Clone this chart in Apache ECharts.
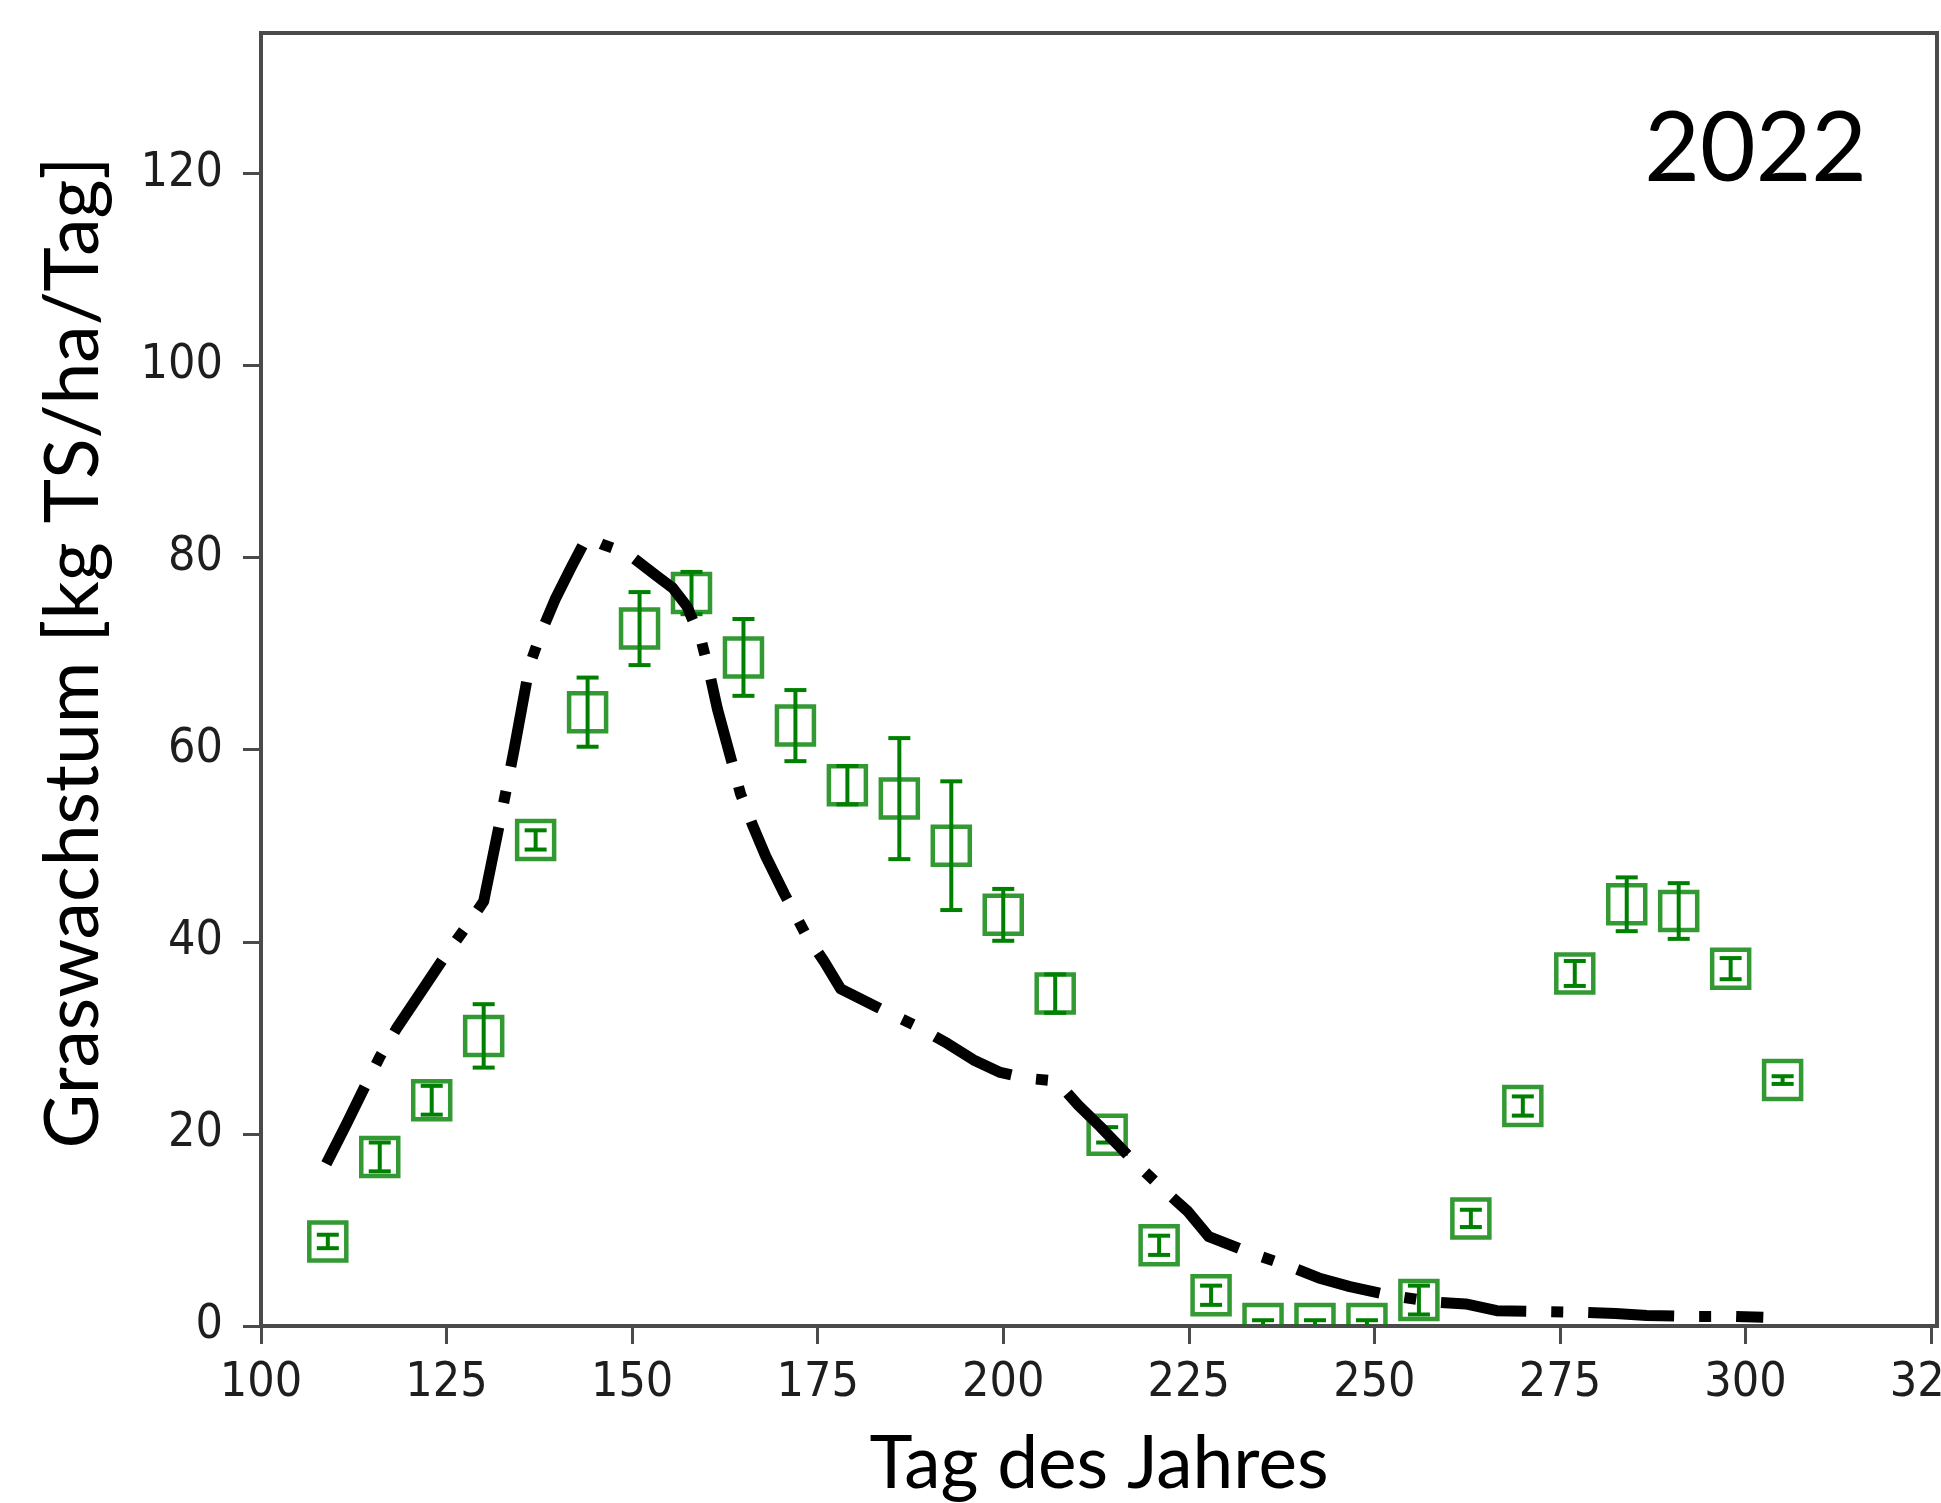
<!DOCTYPE html>
<html>
<head>
<meta charset="utf-8">
<script src="https://cdn.jsdelivr.net/npm/echarts@6/dist/echarts.min.js"></script>
<style>
html,body{margin:0;padding:0;background:#fff;}
#chart{width:1941px;height:1503px;}
</style>
</head>
<body>
<div id="chart"></div>
<script>
// Measured growth (green squares) — day of year, value, error
const obsDays = [109,116,123,130,137,144,151,158,165,172,179,186,193,200,207,214,221,228,235,242,249,256,263,270,277,284,291,298,305];
const obsValues = [8.8,17.6,23.5,30.2,50.6,63.9,72.6,76.3,69.6,62.5,56.3,54.9,50.0,42.8,34.6,19.9,8.4,3.2,0.2,0.2,0.2,2.7,11.2,22.9,36.7,43.9,43.2,37.2,25.6];
const obsErrors = [0.7,1.5,1.5,3.3,1.0,3.6,3.8,2.2,4.0,3.7,2.0,6.3,6.7,2.7,2.0,0.8,1.0,1.0,0.4,0.4,0.4,1.5,0.9,1.0,1.3,2.8,2.9,1.1,0.4];

// Modelled growth (black dash-dot line)
const modelDays = [108.8,111.5,114.1,116,118.2,121.5,124.7,127.4,130,132.4,134.1,136.2,137.8,139.6,141.8,143.9,145.9,148,149.9,153.3,155.5,157.4,159.3,160.5,161.5,164.6,166.3,168,170.5,173.3,175.9,178.1,183,188.6,192.5,196,199.6,203,207.2,210.1,213,217,221.6,224.9,227.7,233,238.6,242.5,246.7,252,258.1,262.3,266.5,272.5,278.6,282.5,286.7,292.5,298.4,302.4];
const modelValues = [16.9,21,25.1,28,30.9,34.7,38.4,41.3,44.2,53.3,60,68.8,72.3,75.6,79,82.1,81.4,80.8,80.1,78.1,76.8,74.9,71.4,67.7,64.2,55.4,52,48.9,45,40.9,37.9,35.1,33.2,31.1,29.4,27.7,26.4,25.8,25.5,23,20.8,17.6,14.2,11.9,9.3,7.7,6.2,5.0,4.1,3.2,2.5,2.3,1.6,1.5,1.4,1.3,1.1,1.0,1.0,0.9];

// Axis ticks
const xTicks = [100,125,150,175,200,225,250,275,300,325];
const yTicks = [0,20,40,60,80,100,120];

const obsData = obsDays.map((d,i)=>[d, obsValues[i], obsErrors[i]]);
const modelData = modelDays.map((d,i)=>[d, modelValues[i]]);

const chart = echarts.init(document.getElementById('chart'), null, {renderer:'canvas'});
const green = '#008000';
const axisCol = '#4a4a4a';
const tickFont = "'DejaVu Sans Condensed', 'DejaVu Sans', sans-serif";
const titleFont = "Lato, 'Open Sans', sans-serif";

chart.setOption({
  backgroundColor:'#ffffff',
  animation:false,
  title:{
    text:'2022', right:74, top:102, padding:0,
    textStyle:{fontFamily:titleFont, fontSize:96, fontWeight:'normal', color:'#000'}
  },
  grid:{left:261, right:4, top:33, bottom:177, show:true, borderColor:axisCol, borderWidth:4, outerBoundsMode:'none', containLabel:false},
  xAxis:{
    type:'value', min:100, max:325.8,
    name:'Tag des Jahres', nameLocation:'middle', nameGap:102,
    nameTextStyle:{fontFamily:titleFont, fontSize:73, color:'#000'},
    axisLine:{show:true, onZero:false, lineStyle:{color:axisCol, width:4}},
    axisTick:{show:true, length:18, lineStyle:{color:axisCol, width:3}, customValues:xTicks},
    axisLabel:{margin:34, fontFamily:tickFont, fontSize:48, color:'#1e1e1e', customValues:xTicks},
    splitLine:{show:false}
  },
  yAxis:{
    type:'value', min:0, max:134.6,
    name:'Graswachstum [kg TS/ha/Tag]', nameLocation:'middle', nameGap:150, nameRotate:90,
    nameTextStyle:{fontFamily:titleFont, fontSize:75, color:'#000', padding:[0,0,0,54]},
    axisLine:{show:true, onZero:false, lineStyle:{color:axisCol, width:4}},
    axisTick:{show:true, length:18, lineStyle:{color:axisCol, width:3}, customValues:yTicks},
    axisLabel:{margin:38, fontFamily:tickFont, fontSize:48, color:'#1e1e1e', customValues:yTicks},
    splitLine:{show:false}
  },
  series:[
    {
      type:'custom', name:'Messung', data:obsData, clip:true, z:2,
      encode:{x:0, y:1},
      renderItem:function(params, api){
        const x = api.value(0), y = api.value(1), e = api.value(2);
        const c = api.coord([x,y]);
        const t = api.coord([x,y+e]);
        const b = api.coord([x,y-e]);
        const hw = 18.5, hh = 19, cw = 11;
        return {type:'group', children:[
          {type:'rect', shape:{x:c[0]-hw, y:c[1]-hh, width:2*hw, height:2*hh},
            style:{fill:'none', stroke:'rgba(0,128,0,0.8)', lineWidth:4.5}},
          {type:'line', shape:{x1:c[0], y1:t[1], x2:c[0], y2:b[1]}, style:{stroke:green, lineWidth:4}},
          {type:'line', shape:{x1:c[0]-cw, y1:t[1], x2:c[0]+cw, y2:t[1]}, style:{stroke:green, lineWidth:4}},
          {type:'line', shape:{x1:c[0]-cw, y1:b[1], x2:c[0]+cw, y2:b[1]}, style:{stroke:green, lineWidth:4}}
        ]};
      }
    },
    {
      type:'line', name:'Modell', data:modelData, symbol:'none', smooth:false, z:3, clip:true,
      lineStyle:{color:'#000', width:11, type:[86,25,12,25], cap:'butt', join:'round'}
    }
  ]
});
</script>
</body>
</html>
